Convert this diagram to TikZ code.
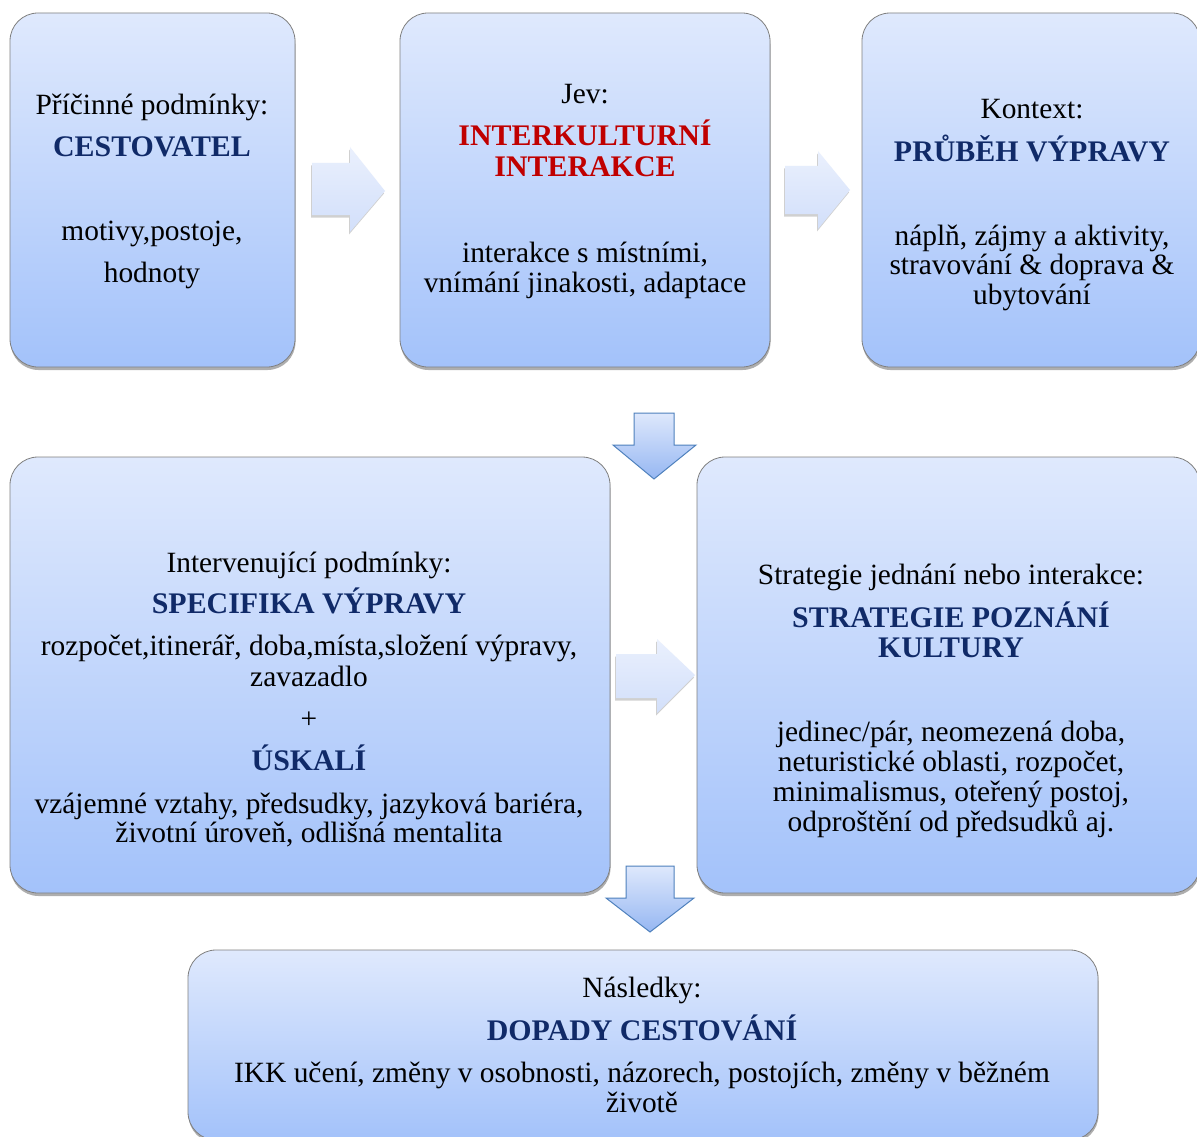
\documentclass[tikz,border=0pt]{standalone}
\usepackage{fontspec}
\setmainfont{Liberation Serif}
\usetikzlibrary{shadows}
\definecolor{boxtop}{RGB}{223,233,253}
\definecolor{boxbot}{RGB}{163,194,250}
\definecolor{boxline}{RGB}{128,128,128}
\definecolor{navy}{RGB}{16,42,104}
\definecolor{hred}{RGB}{192,0,0}
\definecolor{artop}{RGB}{234,240,253}
\definecolor{arbot}{RGB}{210,223,250}
\definecolor{darline}{RGB}{79,129,189}
\definecolor{dartop}{RGB}{222,232,252}
\definecolor{darbot}{RGB}{150,183,242}
\tikzset{
  box/.style={draw=boxline, line width=0.8pt, rounded corners=28pt,
    top color=boxtop, bottom color=boxbot, inner sep=0pt, outer sep=0pt,
    drop shadow={shadow xshift=0.5pt, shadow yshift=-3pt, opacity=0.45, fill=black!70}},
  txt/.style={anchor=base, inner sep=0pt, font=\fontsize{29.4}{31}\selectfont},
  hd/.style={anchor=base, inner sep=0pt, font=\fontsize{29.9}{31}\selectfont\bfseries, text=navy},
  hdred/.style={hd, text=hred},
  rarrow/.style={top color=artop, bottom color=arbot, draw=none,
    drop shadow={shadow xshift=-1pt, shadow yshift=-2.5pt, opacity=0.3, fill=black!60}},
  darrow/.style={draw=darline, line width=1pt, top color=dartop, bottom color=darbot, line join=miter}
}
\begin{document}
\begin{tikzpicture}[x=1pt,y=-1pt]
\useasboundingbox (0,0) rectangle (1197,1137);
\clip (0,0) rectangle (1197,1137);
\fill[white] (0,0) rectangle (1197,1137);
% boxes
\node[box, minimum width=285pt, minimum height=354pt] (b1) at (152.5,190) {};
\node[box, minimum width=370pt, minimum height=354pt] (b2) at (585,190) {};
\node[box, minimum width=338pt, minimum height=354pt] (b3) at (1031,190) {};
\node[box, minimum width=600pt, minimum height=436pt] (b4) at (310,675) {};
\node[box, minimum width=503pt, minimum height=436pt] (b5) at (948.5,675) {};
\node[box, minimum width=910pt, minimum height=190pt] (b6) at (643,1045) {};
% block arrows
\path[rarrow] (312,163) -- (350,163) -- (350,147) -- (385,191) -- (350,232) -- (350,215) -- (312,215) -- cycle;
\path[rarrow] (785,166) -- (818,166) -- (818,151) -- (850,190) -- (818,229) -- (818,214) -- (785,214) -- cycle;
\path[rarrow] (616,654) -- (657,654) -- (657,639) -- (695,675) -- (657,713) -- (657,698) -- (616,698) -- cycle;
\path[darrow] (634,413) -- (674,413) -- (674,445) -- (696,445) -- (654,479) -- (613,445) -- (634,445) -- cycle;
\path[darrow] (626,866) -- (674,866) -- (674,898) -- (694,898) -- (650,932) -- (606,898) -- (626,898) -- cycle;
% box 1
\node[txt] (t1a) at (152,115) {Příčinné podmínky:};
\node[hd]  (t1b) at (152,157) {CESTOVATEL};
\node[txt] (t1c) at (152,240) {motivy,postoje,};
\node[txt] (t1d) at (152,282) {hodnoty};
% box 2
\node[txt]   (t2a) at (585,104) {Jev:};
\node[hdred] (t2b) at (585,146) {INTERKULTURNÍ};
\node[hdred] (t2c) at (585,177) {INTERAKCE};
\node[txt]   (t2d) at (585,262) {interakce s místními,};
\node[txt]   (t2e) at (585,292) {vnímání jinakosti, adaptace};
% box 3
\node[txt] (t3a) at (1032,119) {Kontext:};
\node[hd]  (t3b) at (1032,161) {PRŮBĚH VÝPRAVY};
\node[txt] (t3c) at (1032,245) {náplň, zájmy a aktivity,};
\node[txt] (t3d) at (1032,274) {stravování \& doprava \&};
\node[txt] (t3e) at (1032,304) {ubytování};
% box 4
\node[txt] (t4a) at (309,572) {Intervenující podmínky:};
\node[hd]  (t4b) at (309,613) {SPECIFIKA VÝPRAVY};
\node[txt] (t4c) at (309,655) {rozpočet,itinerář, doba,místa,složení výpravy,};
\node[txt] (t4d) at (309,686) {zavazadlo};
\node[txt] (t4e) at (309,728) {+};
\node[hd]  (t4f) at (309,770) {ÚSKALÍ};
\node[txt] (t4g) at (309,813) {vzájemné vztahy, předsudky, jazyková bariéra,};
\node[txt] (t4h) at (309,842) {životní úroveň, odlišná mentalita};
% box 5
\node[txt] (t5a) at (951,584) {Strategie jednání nebo interakce:};
\node[hd]  (t5b) at (951,627) {STRATEGIE POZNÁNÍ};
\node[hd]  (t5c) at (951,657) {KULTURY};
\node[txt] (t5d) at (951,741) {jedinec/pár, neomezená doba,};
\node[txt] (t5e) at (951,771) {neturistické oblasti, rozpočet,};
\node[txt] (t5f) at (951,801) {minimalismus, oteřený postoj,};
\node[txt] (t5g) at (951,831) {odproštění od předsudků aj.};
% box 6
\node[txt] (t6a) at (642,997) {Následky:};
\node[hd]  (t6b) at (642,1040) {DOPADY CESTOVÁNÍ};
\node[txt] (t6c) at (642,1082) {IKK učení, změny v osobnosti, názorech, postojích, změny v běžném};
\node[txt] (t6d) at (642,1112) {životě};
\end{tikzpicture}
\end{document}
